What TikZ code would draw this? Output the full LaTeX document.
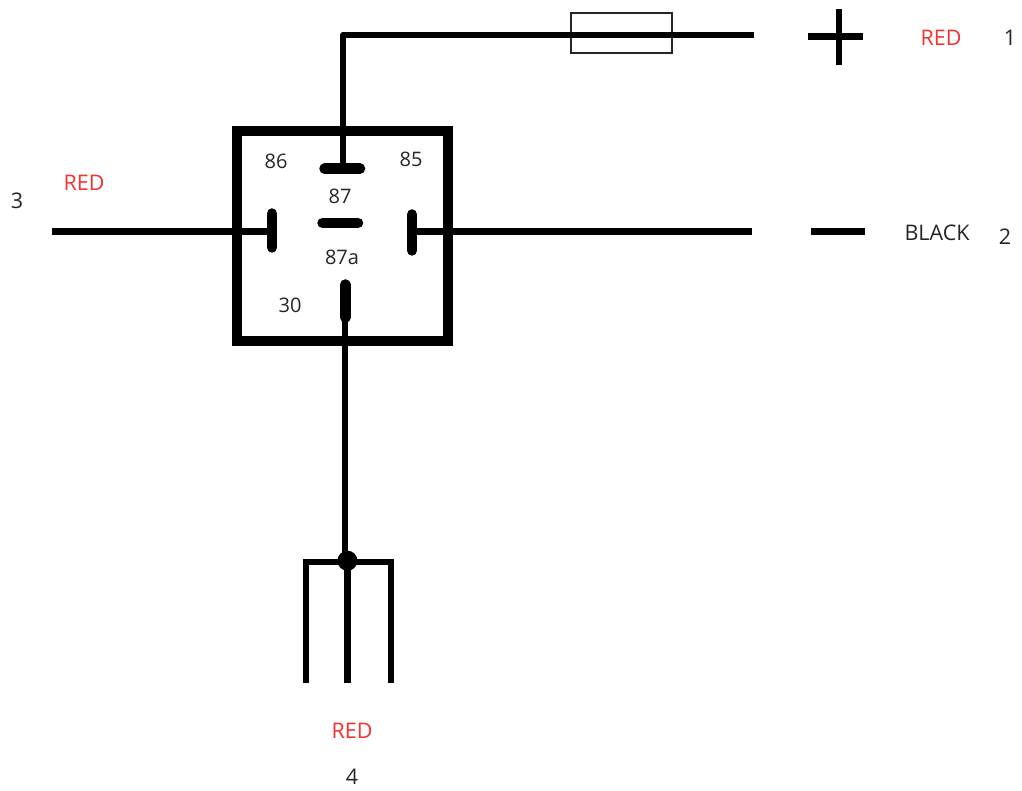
\documentclass[tikz,border=0pt]{standalone}
\usepackage{fontspec}
\setmainfont{Open Sans}
\definecolor{redtxt}{RGB}{245,50,50}
\begin{document}
\begin{tikzpicture}[x=1pt,y=-1pt,
  wire/.style={line width=6.3pt,black},
  term/.style={line width=10.5pt,black,line cap=round},
  lbl/.style={font=\fontsize{20}{22}\selectfont,inner sep=0pt,text=black!85},
  biglbl/.style={lbl,font=\fontsize{21.5}{24}\selectfont},
  redlbl/.style={biglbl,text=redtxt}]
\useasboundingbox (0,0) rectangle (1022,791);
\fill[white] (0,0) rectangle (1022,791);
% coordinates
\coordinate (topL) at (343.3,34.7);
\coordinate (topR) at (754,34.7);
\coordinate (t86) at (343.3,168);
\coordinate (l3) at (52,231.6);
\coordinate (t85l) at (272,231.6);
\coordinate (t85r) at (412,231.6);
\coordinate (r2) at (752,231.6);
\coordinate (t30) at (345.3,300);
\coordinate (j) at (347.4,560.7);
\coordinate (jt) at (345.3,560.7);
\coordinate (fl) at (305.7,682.7);
\coordinate (fm) at (347.4,682.7);
\coordinate (fr) at (391,682.7);
\coordinate (fltop) at (305.7,562);
\coordinate (frtop) at (391,562);
% fuse under wire
\node[draw=black!85,fill=white,line width=1.6pt,minimum width=101pt,minimum height=40pt,inner sep=0pt] (fuse) at (621.5,33.2) {};
% wires
\draw[wire,line join=round] (topR) -- (topL) -- (t86);
\draw[wire] (l3) -- (t85l);
\draw[wire] (t85r) -- (r2);
\draw[wire] (t30) -- (jt);
\draw[line width=6.2pt,line join=miter] (fl) -- (fltop) -- (frtop) -- (fr);
\draw[line width=6.2pt] (j) -- (fm);
\fill (j) circle (10pt);
% relay
\node[draw=black,line width=10pt,minimum width=211pt,minimum height=210pt,inner sep=0pt,outer sep=0pt] (relay) at (342.5,236) {};
% terminals
\draw[term] (324.5,168.7) -- (360,168.7);
\draw[term] (322.5,223) -- (358,223);
\draw[term] (272,213.5) -- (272,247.5);
\draw[term] (412,214.5) -- (412,250.5);
\draw[term] (345.3,284.5) -- (345.3,317.5);
% plus minus
\draw[line width=6.6pt] (808,36.7) -- (863,36.7);
\draw[line width=6.6pt] (839,9) -- (839,65);
\draw[line width=7pt] (811,231.5) -- (865,231.5);
% labels
\node[lbl] (n86) at (276,161) {86};
\node[lbl] (n85) at (411,159) {85};
\node[lbl] (n87) at (340,196) {87};
\node[lbl] (n87a) at (342,257) {87a};
\node[lbl] (n30) at (290,305) {30};
\node[redlbl] (r1) at (941,38) {RED};
\node[biglbl] (o1) at (1010,38) {1};
\node[redlbl] (r3) at (84,183) {RED};
\node[biglbl] (o3) at (17,201) {3};
\node[biglbl] (blk) at (937,233) {BLACK};
\node[biglbl] (o2) at (1005,237) {2};
\node[redlbl] (r4) at (352,731) {RED};
\node[biglbl] (o4) at (352,777) {4};
\end{tikzpicture}
\end{document}
